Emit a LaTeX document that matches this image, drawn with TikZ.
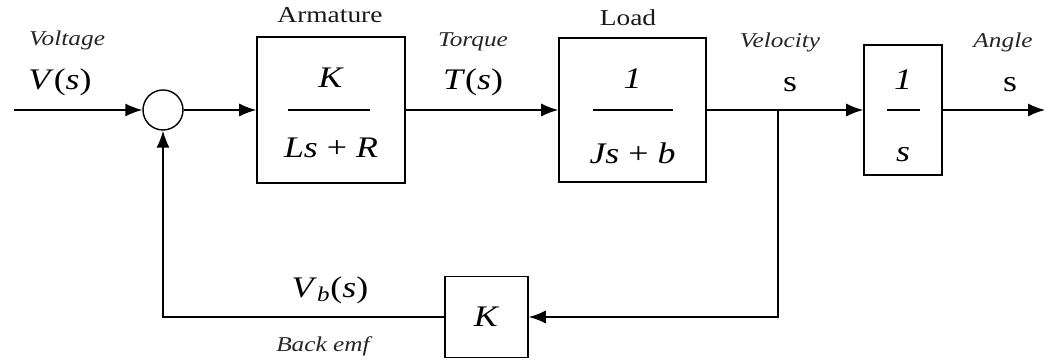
\documentclass[tikz,border=0pt]{standalone}
\usepackage{fontspec}
\setmainfont[FakeStretch=1.2]{Liberation Serif}
\usetikzlibrary{arrows.meta,positioning,calc}

\begin{document}
\begin{tikzpicture}[line width=0.8pt,>={Latex[length=3.4mm,width=2.6mm]},
  block/.style={draw,line width=0.9pt,inner sep=0pt},
  big/.style={font=\fontsize{17}{17}\selectfont},
  lbl/.style={font=\fontsize{12}{12}\selectfont\itshape,text=black!85},
  ttl/.style={font=\fontsize{13}{13}\selectfont,text=black!90}]
  \useasboundingbox (0,0) rectangle (20.92,7.28);
  \node[draw,circle,minimum size=0.8cm,inner sep=0pt] (sum) at (3.26,5.08) {};
  \node[block,minimum width=2.96cm,minimum height=2.92cm] (arm) at (6.62,5.08) {};
  \node[block,minimum width=2.94cm,minimum height=2.88cm] (load) at (12.65,5.08) {};
  \node[block,minimum width=1.56cm,minimum height=2.6cm] (integ) at (18.06,5.08) {};
  \node[block,minimum width=1.66cm,minimum height=1.62cm,big] (fbk) at (9.73,0.94) {\textit{K}};
  \coordinate (in) at (0.28,5.08);
  \coordinate (out) at (20.9,5.08);
  \coordinate (branch) at (15.56,5.08);
  \coordinate (fbturn) at (15.56,0.94);
  \coordinate (fbleft) at (3.26,0.94);
  \draw[->] (in) -- (sum);
  \draw[->] (sum) -- (arm);
  \draw[->] (arm) -- (load);
  \draw[->] (load) -- (integ);
  \draw[->] (integ) -- (out);
  \draw[->] (branch) -- (fbturn) -- (fbk);
  \draw[->] (fbk) -- (fbleft) -- (sum);
  \node[big] (armnum) at ([yshift=0.64cm]arm.center) {\textit{K}};
  \node[big] (armden) at ([yshift=-0.76cm]arm.center) {\textit{Ls} + \textit{R}};
  \draw ([xshift=-0.86cm]arm.center) -- ([xshift=0.78cm]arm.center);
  \node[big] (loadnum) at ([yshift=0.62cm]load.center) {\textit{1}};
  \node[big] (loadden) at ([yshift=-0.86cm]load.center) {\textit{Js} + \textit{b}};
  \draw ([xshift=-0.8cm]load.center) -- ([xshift=0.8cm]load.center);
  \node[big] (integnum) at ([yshift=0.6cm]integ.center) {\textit{1}};
  \node[big] (integden) at ([yshift=-0.9cm]integ.center) {\textit{s}};
  \draw ([xshift=-0.33cm]integ.center) -- ([xshift=0.33cm]integ.center);
  \node[lbl] (vlab) at (1.34,6.48) {Voltage};
  \node[big] (vs) at (1.2,5.64) {\textit{V}(\textit{s})};
  \node[ttl] (armlab) at (6.6,6.98) {Armature};
  \node[lbl] (tlab) at (9.46,6.44) {Torque};
  \node[big] (ts) at (9.46,5.64) {\textit{T}(\textit{s})};
  \node[ttl] (loadlab) at (12.56,6.92) {Load};
  \node[lbl] (wlab) at (15.6,6.44) {Velocity};
  \node[big] (ws) at (15.8,5.58) {s};
  \node[lbl] (alab) at (20.06,6.44) {Angle};
  \node[big] (as) at (20.2,5.58) {s};
  \node[big] (vbs) at (6.6,1.48) {\textit{V}\textsubscript{\textit{b}}(\textit{s})};
  \node[lbl] (emflab) at (6.46,0.36) {Back emf};
\end{tikzpicture}
\end{document}
